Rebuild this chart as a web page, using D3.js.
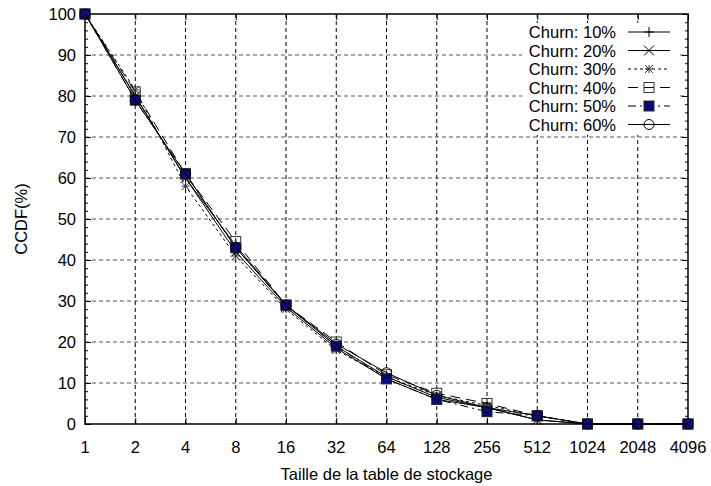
<!DOCTYPE html>
<html>
<head>
<meta charset="utf-8">
<script src="https://cdn.jsdelivr.net/npm/d3@7"></script>
<style>
body { margin: 0; background: #fff; }
svg text { font-family: "Liberation Sans", Arial, sans-serif; font-size: 16.5px; fill: #000; }
</style>
</head>
<body>
<svg width="711" height="486"></svg>
<script>
const sizes = [1, 2, 4, 8, 16, 32, 64, 128, 256, 512, 1024, 2048, 4096];
const yTicks = [0, 10, 20, 30, 40, 50, 60, 70, 80, 90, 100];
const labels = ['Churn: 10%', 'Churn: 20%', 'Churn: 30%', 'Churn: 40%', 'Churn: 50%', 'Churn: 60%'];
const churn10 = [100, 80, 60, 43.5, 29, 19, 11.5, 6.5, 4, 1, 0, 0, 0];
const churn20 = [100, 80, 60, 42, 28.5, 18.5, 11, 6, 4, 1, 0, 0, 0];
const churn30 = [100, 81.5, 58, 41, 28, 18, 11.5, 7, 4.5, 2, 0, 0, 0];
const churn40 = [100, 81, 61, 44.5, 29, 20, 12, 7.5, 5, 2, 0, 0, 0];
const churn50 = [100, 79, 61, 43, 29, 19, 11, 6, 3, 2, 0, 0, 0];
const churn60 = [100, 79, 61, 43, 29, 19.5, 12.5, 7, 4, 2, 0, 0, 0];
const series = [churn10, churn20, churn30, churn40, churn50, churn60];

// line styles and marker kinds, one per series
const dashes = [null, null, '3,3', '10,6', '8,4,2,4', null];
const markers = ['plus', 'cross', 'star', 'square', 'fsquare', 'circle'];

const pLeft = 85, pRight = 688, pTop = 14, pBottom = 424;

var svg = d3.select('svg');
var x = d3.scaleLog().base(2).domain([1, 4096]).range([pLeft, pRight]);
var y = d3.scaleLinear().domain([0, 100]).range([pBottom, pTop]);

// grid
var grid = svg.append('g');
grid.selectAll('line.gx').data(sizes.slice(1, -1)).enter().append('line')
	.attr('x1', d => x(d)).attr('x2', d => x(d))
	.attr('y1', pTop).attr('y2', pBottom)
	.attr('stroke', '#000').attr('stroke-dasharray', '4,3');
grid.selectAll('line.gy').data(yTicks.slice(1, -1)).enter().append('line')
	.attr('x1', pLeft).attr('x2', pRight)
	.attr('y1', d => y(d)).attr('y2', d => y(d))
	.attr('stroke', '#555').attr('stroke-dasharray', '4,3');

// legend background hides grid
svg.append('rect').attr('x', 522).attr('y', 23).attr('width', 158).attr('height', 112).attr('fill', '#fff');

// axes, ticks inward
function axisSet(axis, tr, len, vals) {
	svg.append('g').attr('transform', tr)
		.call(axis.tickValues(vals).tickSize(len).tickFormat(''))
		.call(g => g.select('.domain').remove())
		.call(g => g.selectAll('line').attr('stroke', '#000'));
}
var minor = d3.range(0, 101, 2).filter(v => v % 10 != 0);
axisSet(d3.axisBottom(x), `translate(0,${pBottom})`, -6, sizes);
axisSet(d3.axisTop(x), `translate(0,${pTop})`, -6, sizes);
axisSet(d3.axisLeft(y), `translate(${pLeft},0)`, -6, yTicks);
axisSet(d3.axisRight(y), `translate(${pRight},0)`, -6, yTicks);
axisSet(d3.axisLeft(y), `translate(${pLeft},0)`, -3, minor);
axisSet(d3.axisRight(y), `translate(${pRight},0)`, -3, minor);

svg.append('rect').attr('x', pLeft).attr('y', pTop).attr('width', pRight - pLeft).attr('height', pBottom - pTop)
	.attr('fill', 'none').attr('stroke', '#000').attr('stroke-width', 1.5);

// tick labels
svg.selectAll('text.xl').data(sizes).enter().append('text')
	.attr('x', d => x(d)).attr('y', 453).attr('text-anchor', 'middle').text(d => d);
svg.selectAll('text.yl').data(yTicks).enter().append('text')
	.attr('x', 76).attr('y', d => y(d) + 6).attr('text-anchor', 'end').text(d => d);

svg.append('text').attr('x', (pLeft + pRight) / 2).attr('y', 480).attr('text-anchor', 'middle')
	.text('Taille de la table de stockage');
svg.append('text').attr('transform', `translate(27,${(pTop + pBottom) / 2}) rotate(-90)`)
	.attr('text-anchor', 'middle').text('CCDF(%)');

function drawMarker(g, kind, cx, cy) {
	var s = 5;
	if (kind == 'plus') {
		g.append('path').attr('d', `M${cx - s},${cy}H${cx + s}M${cx},${cy - s}V${cy + s}`).attr('stroke', '#000');
	} else if (kind == 'cross') {
		g.append('path').attr('d', `M${cx - s},${cy - s}L${cx + s},${cy + s}M${cx - s},${cy + s}L${cx + s},${cy - s}`).attr('stroke', '#000');
	} else if (kind == 'star') {
		s = 4;
		g.append('path').attr('d', `M${cx - s},${cy}H${cx + s}M${cx},${cy - s}V${cy + s}M${cx - s},${cy - s}L${cx + s},${cy + s}M${cx - s},${cy + s}L${cx + s},${cy - s}`).attr('stroke', '#333');
	} else if (kind == 'square') {
		g.append('rect').attr('x', cx - s).attr('y', cy - s).attr('width', 2 * s).attr('height', 2 * s)
			.attr('fill', 'none').attr('stroke', '#333');
	} else if (kind == 'fsquare') {
		g.append('rect').attr('x', cx - s).attr('y', cy - s).attr('width', 2 * s).attr('height', 2 * s)
			.attr('fill', '#0b0b80').attr('stroke', '#222');
	} else {
		g.append('circle').attr('cx', cx).attr('cy', cy).attr('r', s).attr('fill', 'none').attr('stroke', '#000');
	}
}

var line = d3.line().x((d, i) => x(sizes[i])).y(d => y(d));
series.forEach((vals, k) => {
	var g = svg.append('g');
	g.append('path').datum(vals).attr('d', line)
		.attr('fill', 'none').attr('stroke', '#000').attr('stroke-width', 1)
		.attr('stroke-dasharray', dashes[k]);
	vals.forEach((v, i) => drawMarker(g, markers[k], x(sizes[i]), y(v)));
});

// legend
labels.forEach((t, k) => {
	var ly = 32 + k * 18.5;
	svg.append('text').attr('x', 616).attr('y', ly + 6).attr('text-anchor', 'end').text(t);
	var g = svg.append('g');
	g.append('line').attr('x1', 628).attr('x2', 670).attr('y1', ly).attr('y2', ly)
		.attr('stroke', '#000').attr('stroke-dasharray', dashes[k]);
	drawMarker(g, markers[k], 649, ly);
});
</script>
</body>
</html>
